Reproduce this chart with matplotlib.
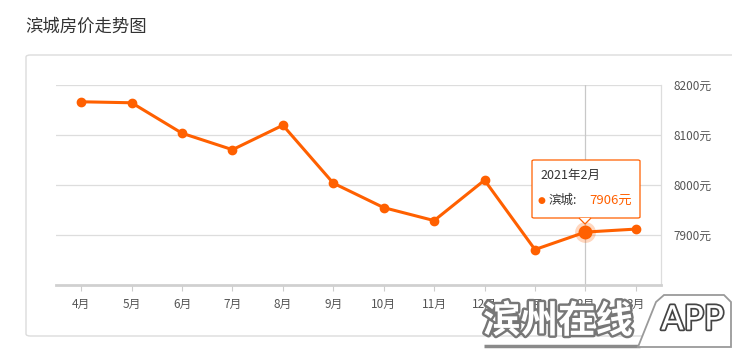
import matplotlib
matplotlib.use('Agg')
import matplotlib.pyplot as plt
import matplotlib.patheffects as pe
from matplotlib.patches import FancyBboxPatch, Polygon

plt.rcParams['font.family'] = ['Noto Sans CJK SC', 'DejaVu Sans']

# data
months = ['4月', '5月', '6月', '7月', '8月', '9月', '10月', '11月', '12月', '1月', '2月', '3月']
prices = [8167, 8165, 8104, 8071, 8120, 8004, 7955, 7929, 8010, 7871, 7906, 7912]
y_ticks = [7900, 8000, 8100, 8200]
hover_idx = 10
hover_label = '2021年2月'
series_name = '滨城'

ORANGE = '#ff6000'
W, H = 732, 357

fig = plt.figure(figsize=(W / 100, H / 100), dpi=100)


def fx(px):
    return px / W


def fy(py):
    return 1 - py / H


# title and outer card
fig.text(fx(25), fy(27), '滨城房价走势图', fontsize=12.5, color='#333333',
         va='center', ha='left')
card = FancyBboxPatch((fx(26), fy(336)), fx(740) - fx(26), fy(55) - fy(336),
                      boxstyle='round,pad=0,rounding_size=0.006',
                      transform=fig.transFigure, facecolor='white',
                      edgecolor='#dcdcdc', linewidth=1.0, zorder=-5)
fig.patches.append(card)

ax = fig.add_axes([fx(56), fy(285), fx(661) - fx(56), fy(85.3) - fy(285)])
ax.set_facecolor('none')
x = list(range(len(months)))

ax.set_xlim(-0.5, len(months) - 0.5)
ax.set_ylim(7800, 8200)
for v in y_ticks:
    ax.axhline(v, color='#dddddd', linewidth=0.9, zorder=1)

# crosshair at hovered month
ax.axvline(hover_idx, color='#c8c8c8', linewidth=0.9, zorder=1)

ax.plot(x, prices, color=ORANGE, linewidth=2.2, marker='o', markersize=6,
        zorder=3, solid_joinstyle='round')
ax.plot(x[hover_idx], prices[hover_idx], 'o', color=ORANGE, markersize=15,
        alpha=0.25, markeredgewidth=0, zorder=2)
ax.plot(x[hover_idx], prices[hover_idx], 'o', color=ORANGE, markersize=9,
        zorder=4)

ax.spines['left'].set_visible(False)
ax.spines['top'].set_visible(False)
ax.spines['right'].set_color('#dddddd')
ax.spines['right'].set_linewidth(0.9)
ax.spines['bottom'].set_color('#d0d0d0')
ax.spines['bottom'].set_linewidth(2)

ax.set_xticks(x)
ax.set_xticklabels(months, fontsize=8.5, color='#555555')
ax.tick_params(axis='x', length=4, width=0.8, color='#cccccc', pad=5)
ax.yaxis.tick_right()
ax.set_yticks(y_ticks)
ax.set_yticklabels(['%d元' % v for v in y_ticks], fontsize=8.5, color='#555555')
ax.tick_params(axis='y', length=0, pad=9)

# tooltip
tip_box = FancyBboxPatch((fx(532), fy(218)), fx(640) - fx(532), fy(160) - fy(218),
                         boxstyle='round,pad=0,rounding_size=0.003',
                         transform=fig.transFigure, facecolor='white',
                         edgecolor=ORANGE, linewidth=0.9, zorder=10)
fig.patches.append(tip_box)
arrow = Polygon([(fx(579), fy(218)), (fx(585), fy(224)), (fx(591), fy(218))],
                closed=False, transform=fig.transFigure, facecolor='white',
                edgecolor=ORANGE, linewidth=0.9, zorder=11)
fig.patches.append(arrow)
fig.text(fx(540), fy(175), hover_label, fontsize=9, color='#333333',
         va='center', ha='left', zorder=12)
fig.text(fx(538), fy(200), '●', fontsize=6.5, color=ORANGE, va='center',
         ha='left', family='DejaVu Sans', zorder=12)
fig.text(fx(549), fy(200), series_name + ':', fontsize=9, color='#333333',
         va='center', ha='left', zorder=12)
fig.text(fx(589), fy(200), '%d元' % prices[hover_idx], fontsize=9.5,
         color=ORANGE, va='center', ha='left', zorder=12)

# watermark (semi-transparent white lettering with gray shadow)
fig.patches.append(Polygon([(fx(484), fy(346)), (fx(640), fy(346))],
                           closed=False, transform=fig.transFigure,
                           edgecolor='#8a8a8a', linewidth=2.5, zorder=20))
badge = Polygon([(fx(638), fy(347)), (fx(656), fy(302)), (fx(664), fy(295)),
                 (fx(724), fy(295)), (fx(731), fy(302)), (fx(731), fy(347))],
                transform=fig.transFigure, facecolor='white',
                edgecolor='#9a9a9a', linewidth=1.3, zorder=20)
fig.patches.append(badge)
fig.text(fx(483), fy(321), '滨州在线', fontsize=27, fontweight='bold',
         color='white', va='center', ha='left',
         path_effects=[pe.withStroke(linewidth=3.5, foreground='#777777')],
         zorder=21)
fig.text(fx(661), fy(320), 'APP', fontsize=24, color='white',
         va='center', ha='left', family='DejaVu Sans',
         path_effects=[pe.withStroke(linewidth=2.5, foreground='#444444')],
         zorder=21)

fig.savefig('out.png', dpi=100)
